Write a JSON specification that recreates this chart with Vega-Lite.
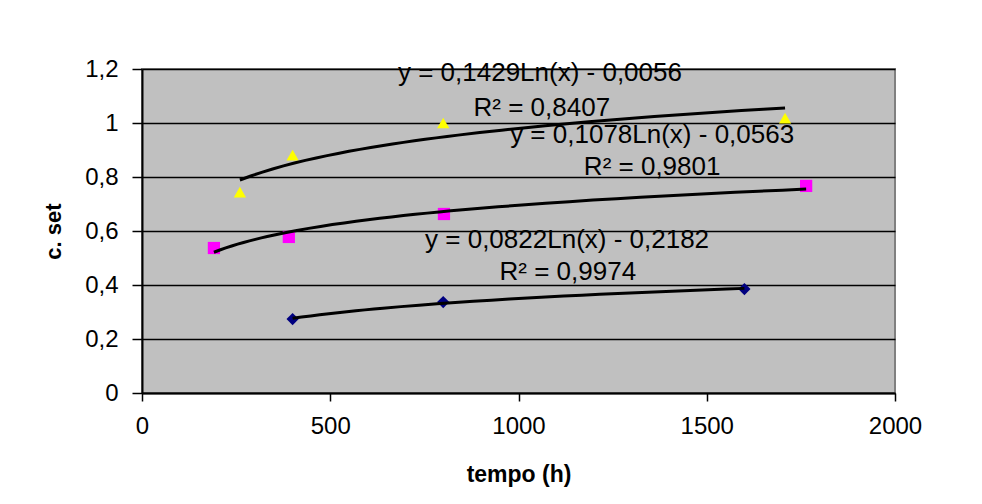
{
  "$schema": "https://vega.github.io/schema/vega-lite/v6.json",
  "width": 753,
  "height": 324,
  "autosize": "none",
  "padding": {"left": 142, "top": 69, "right": 87, "bottom": 111},
  "background": "white",
  "config": {
    "font": "Liberation Sans",
    "view": {"fill": "#C0C0C0", "stroke": "#808080", "strokeWidth": 2}
  },
  "datasets": {
    "points": [
      {"series": "A", "x": 400, "y": 0.274},
      {"series": "A", "x": 800, "y": 0.337},
      {"series": "A", "x": 1600, "y": 0.385},
      {"series": "B", "x": 191, "y": 0.537},
      {"series": "B", "x": 390, "y": 0.578},
      {"series": "B", "x": 802, "y": 0.663},
      {"series": "B", "x": 1764, "y": 0.767},
      {"series": "C", "x": 260, "y": 0.744},
      {"series": "C", "x": 400, "y": 0.881},
      {"series": "C", "x": 800, "y": 1.0},
      {"series": "C", "x": 1708, "y": 1.018}
    ],
    "labels": [
      {"x": 1057, "y": 1.185, "text": "y = 0,1429Ln(x) - 0,0056"},
      {"x": 1062, "y": 1.056, "text": "R² = 0,8407"},
      {"x": 1355, "y": 0.956, "text": "y = 0,1078Ln(x) - 0,0563"},
      {"x": 1355, "y": 0.837, "text": "R² = 0,9801"},
      {"x": 1129, "y": 0.567, "text": "y = 0,0822Ln(x) - 0,2182"},
      {"x": 1131, "y": 0.448, "text": "R² = 0,9974"}
    ]
  },
  "layer": [
    {
      "data": {"name": "points"},
      "mark": {"type": "point", "filled": true, "opacity": 1, "size": 150},
      "encoding": {
        "x": {
          "field": "x", "type": "quantitative",
          "scale": {"domain": [0, 2000], "nice": false, "zero": true},
          "axis": {
            "values": [0, 500, 1000, 1500, 2000],
            "format": "d",
            "grid": false,
            "domainColor": "black", "domainWidth": 2,
            "tickColor": "black", "tickWidth": 1.5, "tickSize": 8,
            "labelFontSize": 24, "labelColor": "black", "labelPadding": 13,
            "labelFlush": false,
            "title": "tempo (h)",
            "titleFontSize": 23, "titleFontWeight": "bold", "titleColor": "black",
            "titleY": 81, "titleBaseline": "middle"
          }
        },
        "y": {
          "field": "y", "type": "quantitative",
          "scale": {"domain": [0, 1.2], "nice": false},
          "axis": {
            "values": [0, 0.2, 0.4, 0.6, 0.8, 1, 1.2],
            "format": ".1~f",
            "labelExpr": "replace(datum.label, '.', ',')",
            "grid": true, "gridColor": "black", "gridWidth": 1.5, "gridOpacity": 1,
            "domainColor": "black", "domainWidth": 2,
            "tickColor": "black", "tickWidth": 1.5, "tickSize": 10,
            "labelFontSize": 24, "labelColor": "black", "labelPadding": 14,
            "labelFlush": false,
            "title": "c. set",
            "titleFontSize": 22, "titleFontWeight": "bold", "titleColor": "black",
            "titleX": -89, "titleY": 162, "titleBaseline": "middle", "titleAngle": -90
          }
        },
        "shape": {
          "field": "series", "type": "nominal",
          "scale": {"domain": ["A", "B", "C"], "range": ["diamond", "square", "triangle-up"]},
          "legend": null
        },
        "size": {
          "field": "series", "type": "nominal",
          "scale": {"domain": ["A", "B", "C"], "range": [150, 150, 270]},
          "legend": null
        },
        "color": {
          "field": "series", "type": "nominal",
          "scale": {"domain": ["A", "B", "C"], "range": ["#000080", "#FF00FF", "#FFFF00"]},
          "legend": null
        }
      }
    },
    {
      "data": {"name": "points"},
      "transform": [
        {"regression": "y", "on": "x", "method": "log", "groupby": ["series"]}
      ],
      "mark": {"type": "line", "color": "black", "strokeWidth": 3},
      "encoding": {
        "x": {"field": "x", "type": "quantitative"},
        "y": {"field": "y", "type": "quantitative"},
        "detail": {"field": "series", "type": "nominal"}
      }
    },
    {
      "data": {"name": "labels"},
      "mark": {"type": "text", "fontSize": 26, "color": "black", "align": "center", "baseline": "middle"},
      "encoding": {
        "x": {"field": "x", "type": "quantitative"},
        "y": {"field": "y", "type": "quantitative"},
        "text": {"field": "text", "type": "nominal"}
      }
    }
  ]
}
